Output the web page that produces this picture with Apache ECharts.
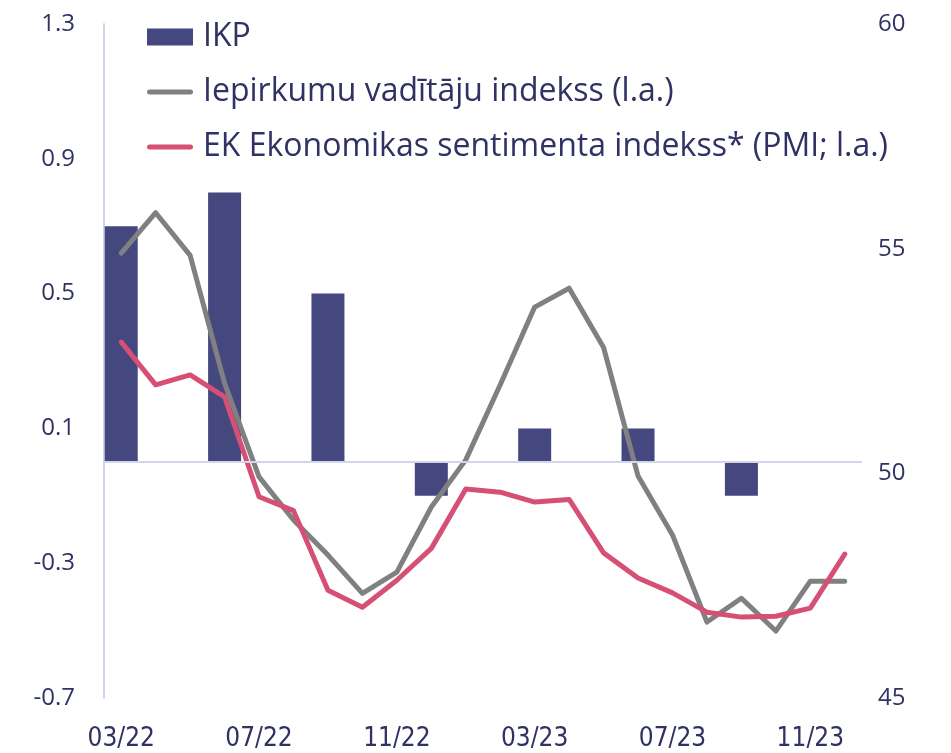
<!DOCTYPE html>
<html lang="lv">
<head>
    <meta charset="UTF-8">
    <title>IKP un noskaņojuma rādītāji</title>
    <script src="https://cdn.jsdelivr.net/npm/echarts@6/dist/echarts.min.js"></script>
    <style>
        body {
            margin: 0;
            padding: 0;
            background-color: #ffffff;
            overflow: hidden;
        }
        #chart {
            width: 951px;
            height: 753px;
        }
    </style>
</head>
<body>
<div id="chart"></div>

<script>
    // mēneši (x ass)
    const months = ['03/22', '04/22', '05/22', '06/22', '07/22', '08/22', '09/22', '10/22', '11/22', '12/22',
        '01/23', '02/23', '03/23', '04/23', '05/23', '06/23', '07/23', '08/23', '09/23', '10/23', '11/23', '12/23'];

    // IKP pārmaiņas pret iepriekšējo ceturksni, % (kreisā ass)
    const ikp = [0.7, null, null, 0.8, null, null, 0.5, null, null, -0.1, null, null,
        0.1, null, null, 0.1, null, null, -0.1, null, null, null];

    // Iepirkumu vadītāju indekss (labā ass)
    const pmi = [54.9, 55.8, 54.85, 52.0, 49.92, 48.96, 48.18, 47.33, 47.8, 49.25,
        50.3, 51.97, 53.7, 54.12, 52.8, 49.94, 48.63, 46.69, 47.22, 46.49, 47.6, 47.6];

    // EK Ekonomikas sentimenta indekss (labā ass)
    const esi = [52.92, 51.97, 52.19, 51.7, 49.48, 49.17, 47.4, 47.02, 47.62, 48.33,
        49.65, 49.58, 49.36, 49.42, 48.23, 47.67, 47.34, 46.91, 46.8, 46.82, 47.0, 48.2];

    const textColor = '#2f3262';
    const axisColor = '#d3d5ec';
    // plāna līnija ar noapaļotiem galiem leģendai
    const lineIcon = 'path://M2.5,0H43.5A2.5,2.5,0,0,1,43.5,5H2.5A2.5,2.5,0,0,1,2.5,0Z';

    const chart = echarts.init(document.getElementById('chart'));

    chart.setOption({
        animation: false,
        grid: {
            left: 104,
            right: 89,
            top: 24,
            bottom: 55,
            containLabel: false
        },
        legend: {
            orient: 'vertical',
            left: 142,
            top: 16,
            itemWidth: 46,
            itemHeight: 17,
            itemGap: 23,
            symbolKeepAspect: true,
            textStyle: {
                color: textColor,
                fontFamily: 'Open Sans',
                fontSize: 32,
                padding: [0, 0, 0, 5]
            },
            data: [
                { name: 'IKP', icon: 'rect' },
                { name: 'Iepirkumu vadītāju indekss (l.a.)', icon: lineIcon },
                { name: 'EK Ekonomikas sentimenta indekss* (PMI; l.a.)', icon: lineIcon }
            ]
        },
        xAxis: {
            type: 'category',
            data: months,
            axisLine: { show: false, onZero: false },
            axisTick: { show: false },
            axisLabel: {
                interval: 3,
                color: textColor,
                fontFamily: 'Liberation Sans Narrow, DejaVu Sans Condensed, Open Sans',
                fontSize: 26,
                margin: 28
            },
            splitLine: { show: false }
        },
        yAxis: [
            {
                type: 'value',
                min: -0.7,
                max: 1.3,
                interval: 0.4,
                axisLine: { show: true, lineStyle: { color: axisColor, width: 2 } },
                axisTick: { show: false },
                splitLine: { show: false },
                axisLabel: {
                    color: textColor,
                    fontFamily: 'Open Sans',
                    fontSize: 24,
                    margin: 29,
                    formatter: v => v.toFixed(1)
                }
            },
            {
                type: 'value',
                min: 45,
                max: 60,
                interval: 5,
                axisLine: { show: false },
                axisTick: { show: false },
                splitLine: { show: false },
                axisLabel: {
                    color: textColor,
                    fontFamily: 'Open Sans',
                    fontSize: 24,
                    margin: 16
                }
            }
        ],
        series: [
            {
                name: 'IKP',
                type: 'bar',
                yAxisIndex: 0,
                data: ikp,
                barWidth: 33,
                itemStyle: { color: '#45487f' },
                markLine: {
                    silent: true,
                    symbol: 'none',
                    label: { show: false },
                    lineStyle: { color: axisColor, width: 2, type: 'solid' },
                    data: [{ yAxis: 0 }]
                }
            },
            {
                name: 'Iepirkumu vadītāju indekss (l.a.)',
                type: 'line',
                yAxisIndex: 1,
                data: pmi,
                symbol: 'none',
                lineStyle: { color: '#808083', width: 5, cap: 'round', join: 'round' },
                itemStyle: { color: '#808083' }
            },
            {
                name: 'EK Ekonomikas sentimenta indekss* (PMI; l.a.)',
                type: 'line',
                yAxisIndex: 1,
                data: esi,
                symbol: 'none',
                lineStyle: { color: '#d64f74', width: 5, cap: 'round', join: 'round' },
                itemStyle: { color: '#d64f74' }
            }
        ]
    });
</script>
</body>
</html>
